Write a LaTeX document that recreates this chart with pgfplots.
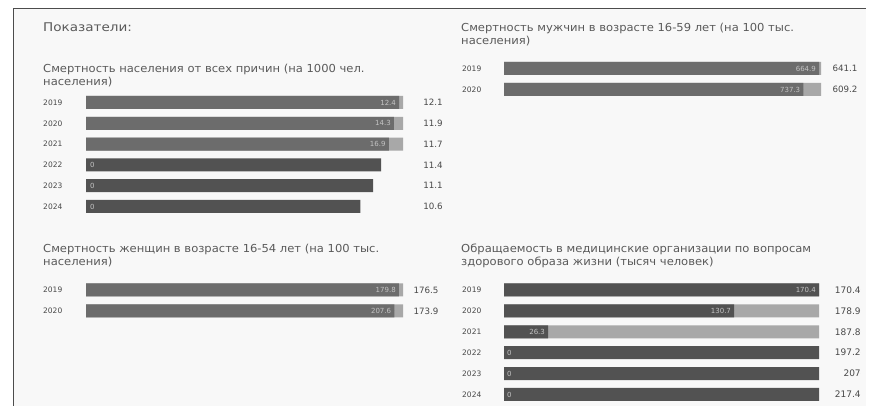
\documentclass[border=0pt]{standalone}
\usepackage{fontspec}
\setmainfont{DejaVu Sans}
\newfontfamily\widefont[FakeStretch=1.05]{DejaVu Sans}
\newfontfamily\widerfont[FakeStretch=1.13]{DejaVu Sans}
\usepackage{pgfplots}
\pgfplotsset{compat=1.18}
\definecolor{bg}{HTML}{F8F8F8}
\definecolor{trk}{HTML}{A8A8A8}
\definecolor{med}{HTML}{6C6C6C}
\definecolor{drk}{HTML}{525252}
\definecolor{ttl}{HTML}{5A5A5A}
\definecolor{val}{HTML}{484848}
\definecolor{inl}{HTML}{C4C4C4}
\pgfplotsset{
  panel/.style={scale only axis, hide axis, clip=false, y dir=reverse, xmin=0, ymin=-0.5, anchor=north west},
  barbase/.style={xbar, bar width=13pt, bar shift=0pt, draw=none},
  lbl/.style={only marks, mark=*, mark size=0pt, mark options={draw=none, fill=none},
    point meta=explicit symbolic, nodes near coords,
    nodes near coords style={inner sep=0pt}},
  yearlbl/.style={lbl, nodes near coords style={anchor=west, font=\fontsize{7.5}{9}\selectfont, text=val}},
  rightlbl/.style={lbl, nodes near coords style={anchor=center, font=\fontsize{8.7}{10}\selectfont, text=val}},
  innerlbl/.style={lbl, nodes near coords style={anchor=east, xshift=-3pt, font=\fontsize{7}{8}\selectfont, text=inl}},
  zerolbl/.style={lbl, nodes near coords style={anchor=west, font=\fontsize{7}{8}\selectfont, text=inl}},
}
\newcommand{\ttlfont}{\widefont\fontsize{11}{13}\selectfont}
\begin{document}
\begin{tikzpicture}
\path[fill=white] (0,0) rectangle (872pt,406pt);
\fill[bg] (13pt,0) rectangle (866pt,398pt);
\draw[color=black!70, line width=0.9pt] (13pt,0) -- (13pt,398pt) -- (866pt,398pt);

% titles
\node[anchor=base west, inner sep=0pt, font=\widerfont\fontsize{12}{14}\selectfont, text=ttl] at (43pt,374pt) {Показатели:};
\node[anchor=base west, inner sep=0pt, font=\ttlfont, text=ttl] at (43pt,333pt) {Смертность населения от всех причин (на 1000 чел.};
\node[anchor=base west, inner sep=0pt, font=\ttlfont, text=ttl] at (43pt,320pt) {населения)};
\node[anchor=base west, inner sep=0pt, font=\ttlfont, text=ttl] at (461pt,374pt) {Смертность мужчин в возрасте 16-59 лет (на 100 тыс.};
\node[anchor=base west, inner sep=0pt, font=\ttlfont, text=ttl] at (461pt,361pt) {населения)};
\node[anchor=base west, inner sep=0pt, font=\ttlfont, text=ttl] at (43pt,153pt) {Смертность женщин в возрасте 16-54 лет (на 100 тыс.};
\node[anchor=base west, inner sep=0pt, font=\ttlfont, text=ttl] at (43pt,140pt) {населения)};
\node[anchor=base west, inner sep=0pt, font=\ttlfont, text=ttl] at (461pt,153pt) {Обращаемость в медицинские организации по вопросам};
\node[anchor=base west, inner sep=0pt, font=\ttlfont, text=ttl] at (461pt,140pt) {здорового образа жизни (тысяч человек)};

% Panel 1: all causes mortality
\begin{axis}[panel, at={(86pt,313.9pt)}, width=317pt, height=124.8pt, xmax=12.25, ymax=5.5]
\addplot[barbase, fill=trk] coordinates {(12.25,0) (12.25,1) (12.25,2)};
\addplot[barbase, fill=med] coordinates {(12.1,0) (11.9,1) (11.7,2)};
\addplot[barbase, fill=drk] coordinates {(11.4,3) (11.1,4) (10.6,5)};
\addplot[innerlbl] coordinates {(12.1,0)[12.4] (11.9,1)[14.3] (11.7,2)[16.9]};
\addplot[zerolbl] coordinates {(0.15,3)[0] (0.15,4)[0] (0.15,5)[0]};
\addplot[yearlbl] coordinates {(-1.66,0)[2019] (-1.66,1)[2020] (-1.66,2)[2021] (-1.66,3)[2022] (-1.66,4)[2023] (-1.66,5)[2024]};
\addplot[rightlbl] coordinates {(13.41,0)[12.1] (13.41,1)[11.9] (13.41,2)[11.7] (13.41,3)[11.4] (13.41,4)[11.1] (13.41,5)[10.6]};
\end{axis}

% Panel 2: male mortality 16-59
\begin{axis}[panel, at={(504pt,348pt)}, width=317pt, height=42pt, xmax=645.1, ymax=1.5]
\addplot[barbase, fill=trk] coordinates {(645.1,0) (645.1,1)};
\addplot[barbase, fill=med] coordinates {(641.1,0) (609.2,1)};
\addplot[innerlbl] coordinates {(641.1,0)[664.9] (609.2,1)[737.3]};
\addplot[yearlbl] coordinates {(-85.5,0)[2019] (-85.5,1)[2020]};
\addplot[rightlbl] coordinates {(694,0)[641.1] (694,1)[609.2]};
\end{axis}

% Panel 3: female mortality 16-54
\begin{axis}[panel, at={(86pt,126.5pt)}, width=317pt, height=42pt, xmax=178.8, ymax=1.5]
\addplot[barbase, fill=trk] coordinates {(178.8,0) (178.8,1)};
\addplot[barbase, fill=med] coordinates {(176.5,0) (173.9,1)};
\addplot[innerlbl] coordinates {(176.5,0)[179.8] (173.9,1)[207.6]};
\addplot[yearlbl] coordinates {(-24.25,0)[2019] (-24.25,1)[2020]};
\addplot[rightlbl] coordinates {(191.8,0)[176.5] (191.8,1)[173.9]};
\end{axis}

% Panel 4: healthy lifestyle visits (percent of row target)
\begin{axis}[panel, at={(504pt,126.45pt)}, width=315pt, height=125.4pt, xmax=100, ymax=5.5]
\addplot[barbase, fill=trk] coordinates {(100,0) (100,1) (100,2)};
\addplot[barbase, fill=drk] coordinates {(100,0) (73.06,1) (14.0,2) (100,3) (100,4) (100,5)};
\addplot[innerlbl] coordinates {(100,0)[170.4] (73.06,1)[130.7] (14.0,2)[26.3]};
\addplot[zerolbl] coordinates {(0.95,3)[0] (0.95,4)[0] (0.95,5)[0]};
\addplot[yearlbl] coordinates {(-13.33,0)[2019] (-13.33,1)[2020] (-13.33,2)[2021] (-13.33,3)[2022] (-13.33,4)[2023] (-13.33,5)[2024]};
\addplot[rightlbl, nodes near coords style={anchor=east, font=\fontsize{9}{10}\selectfont}] coordinates {(113.3,0)[170.4] (113.3,1)[178.9] (113.3,2)[187.8] (113.3,3)[197.2] (113.3,4)[207] (113.3,5)[217.4]};
\end{axis}

\pgfresetboundingbox
\useasboundingbox (0,0) rectangle (872pt,406pt);
\end{tikzpicture}
\end{document}
